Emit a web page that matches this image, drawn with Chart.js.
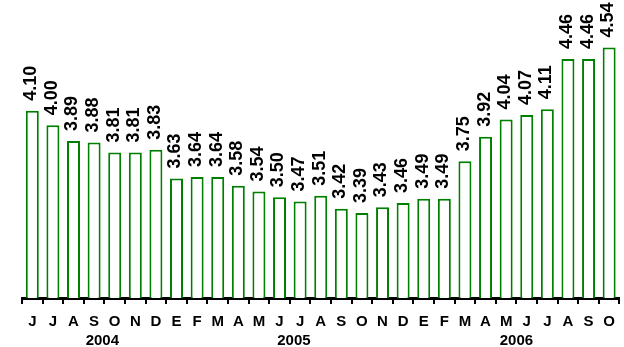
<!DOCTYPE html>
<html lang="es">
<head>
    <meta charset="UTF-8" />
    <title>Tasa mensual</title>
    <style>
        body {
            margin: 0;
            background: #fff;
        }
        #chart-container {
            width: 624px;
            height: 347px;
        }
    </style>
    <script src="https://cdn.jsdelivr.net/npm/chart.js"></script>
</head>
<body>
<div id="chart-container">
    <canvas id="rateChart" width="624" height="347"></canvas>
</div>

<script>
  // Jun 2004 - Oct 2006
  const months = [
    "J", "J", "A", "S", "O", "N", "D",
    "E", "F", "M", "A", "M", "J", "J", "A", "S", "O", "N", "D",
    "E", "F", "M", "A", "M", "J", "J", "A", "S", "O"
  ];
  const values = [
    4.10, 4.00, 3.89, 3.88, 3.81, 3.81, 3.83,
    3.63, 3.64, 3.64, 3.58, 3.54, 3.50, 3.47, 3.51, 3.42, 3.39, 3.43, 3.46,
    3.49, 3.49, 3.75, 3.92, 4.04, 4.07, 4.11, 4.46, 4.46, 4.54
  ];
  const years = ["2004", "2005", "2006"];
  const yearAt = [3.4, 12.7, 23.5];

  const FONT = "Arial, 'Liberation Sans', sans-serif";

  // value written vertically above each bar
  const barValues = {
    id: "barValues",
    afterDatasetsDraw(chart) {
      const ctx = chart.ctx;
      const meta = chart.getDatasetMeta(0);
      ctx.save();
      ctx.font = "bold 18px " + FONT;
      ctx.fillStyle = "#000";
      ctx.textAlign = "left";
      ctx.textBaseline = "middle";
      meta.data.forEach((bar, i) => {
        ctx.save();
        ctx.translate(bar.x - 1, bar.y - 10);
        ctx.rotate(-Math.PI / 2);
        ctx.fillText(values[i].toFixed(2), 0, 0);
        ctx.restore();
      });
      ctx.restore();
    },
  };

  // year row under the month letters
  const yearRow = {
    id: "yearRow",
    afterDraw(chart) {
      const ctx = chart.ctx;
      const x = chart.scales.x;
      ctx.save();
      ctx.font = "bold 15px " + FONT;
      ctx.fillStyle = "#000";
      ctx.textAlign = "center";
      ctx.textBaseline = "middle";
      years.forEach((y, i) => {
        ctx.fillText(y, x.getPixelForValue(yearAt[i]), 341);
      });
      ctx.restore();
    },
  };

  const ctx = document.getElementById("rateChart").getContext("2d");
  new Chart(ctx, {
    type: "bar",
    data: {
      labels: months,
      datasets: [
        {
          data: values,
          backgroundColor: "#ffffff",
          borderColor: "#008000",
          borderWidth: 2,
          borderSkipped: "bottom",
          barPercentage: 0.63,
          categoryPercentage: 1,
        },
      ],
    },
    options: {
      responsive: false,
      animation: false,
      layout: {
        padding: { top: 10, left: 22, right: 1, bottom: 7 },
      },
      scales: {
        x: {
          type: "category",
          offset: true,
          grid: {
            offset: true,
            drawOnChartArea: false,
            tickLength: 6,
            color: "#000",
            lineWidth: 2,
          },
          border: { color: "#000", width: 3 },
          ticks: {
            color: "#000",
            font: { family: FONT, size: 15, weight: "bold" },
            padding: 9,
            maxRotation: 0,
            autoSkip: false,
          },
        },
        y: {
          display: false,
          min: 2.8,
          max: 4.8,
        },
      },
      plugins: {
        legend: { display: false },
        tooltip: { enabled: false },
      },
    },
    plugins: [barValues, yearRow],
  });
</script>
</body>
</html>
